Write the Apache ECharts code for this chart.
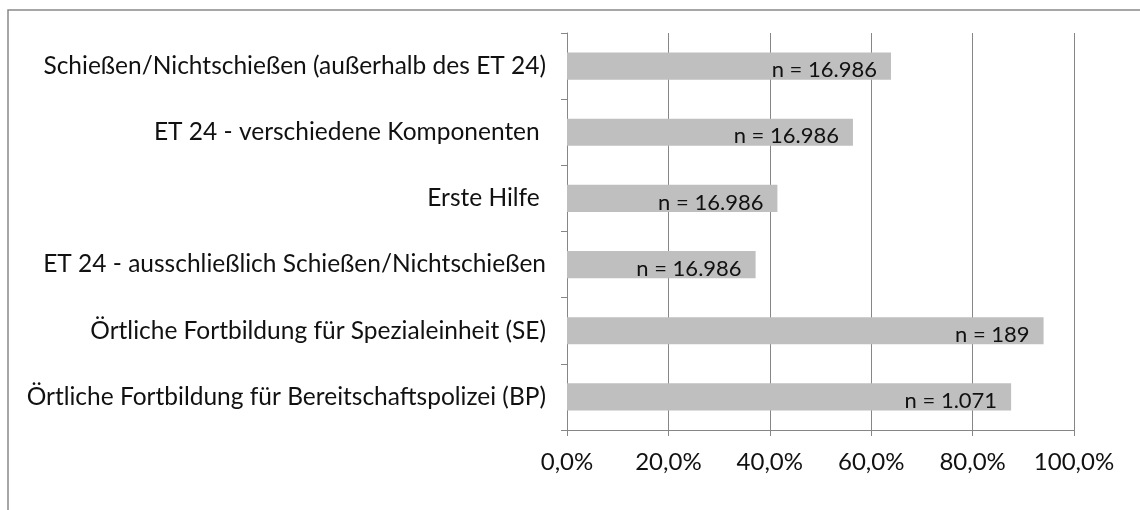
<!DOCTYPE html>
<html>
<head>
<meta charset="utf-8">
<script src="https://cdn.jsdelivr.net/npm/echarts@6/dist/echarts.min.js"></script>
<style>html,body{margin:0;padding:0;background:#fff;}#c{width:1140px;height:510px;}</style>
</head>
<body>
<div id="c"></div>
<script>
var categories = [
  "Schießen/Nichtschießen (außerhalb des ET 24)",
  "ET 24 - verschiedene Komponenten ",
  "Erste Hilfe ",
  "ET 24 - ausschließlich Schießen/Nichtschießen",
  "Örtliche Fortbildung für Spezialeinheit (SE)",
  "Örtliche Fortbildung für Bereitschaftspolizei (BP)"
];
var values = [63.9, 56.4, 41.5, 37.2, 94.0, 87.6];
var nLabels = ["n = 16.986", "n = 16.986", "n = 16.986", "n = 16.986", "n = 189", "n = 1.071"];
var xTicks = [0, 20, 40, 60, 80, 100];

var chart = echarts.init(document.getElementById('c'), null, {renderer: 'canvas'});
var font = 'Lato, Carlito, Calibri, sans-serif';
var grey = '#868686';
chart.setOption({
  animation: false,
  backgroundColor: '#fff',
  textStyle: {fontFamily: font},
  graphic: [{
    type: 'rect', silent: true,
    shape: {x: 8, y: 10, width: 1300, height: 700},
    style: {fill: 'none', stroke: '#898989', lineWidth: 1.5}
  }],
  grid: {left: 567, right: 66, top: 33, bottom: 80, containLabel: false},
  xAxis: {
    type: 'value', min: xTicks[0], max: xTicks[xTicks.length - 1], interval: 20,
    axisLine: {show: true, lineStyle: {color: grey, width: 1}},
    axisTick: {show: true, length: 6, lineStyle: {color: grey}},
    splitLine: {show: true, lineStyle: {color: grey, width: 1}},
    axisLabel: {
      color: '#111', fontSize: 24, fontFamily: font, margin: 20,
      formatter: function (v) { return v.toFixed(1).replace('.', ',') + '%'; }
    }
  },
  yAxis: {
    type: 'category', data: categories, inverse: true,
    axisLine: {show: true, lineStyle: {color: grey, width: 1}},
    axisTick: {show: true, length: 6, alignWithLabel: false, lineStyle: {color: grey}},
    splitLine: {show: false},
    axisLabel: {color: '#111', fontSize: 24.5, fontFamily: font, margin: 21}
  },
  series: [{
    type: 'bar',
    data: values,
    barCategoryGap: '59%',
    itemStyle: {color: '#BFBFBF'},
    label: {
      show: true, position: 'insideRight', distance: 14, offset: [0, 4],
      color: '#111', fontSize: 22, fontFamily: font,
      formatter: function (p) { return nLabels[p.dataIndex]; }
    }
  }]
});
</script>
</body>
</html>
